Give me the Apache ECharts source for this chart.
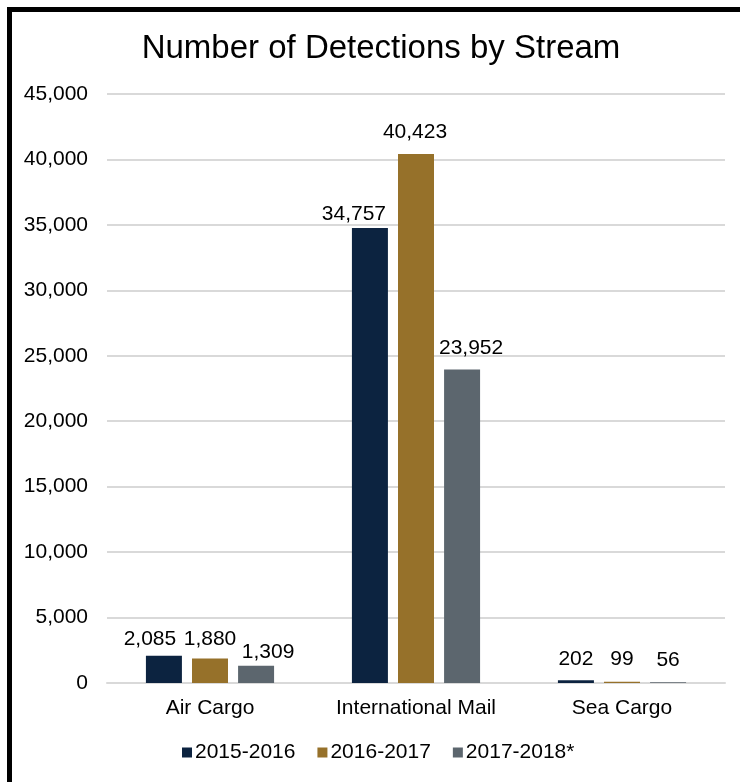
<!DOCTYPE html>
<html>
<head>
<meta charset="utf-8">
<script src="https://cdn.jsdelivr.net/npm/echarts@6/dist/echarts.min.js"></script>
<style>
html,body{margin:0;padding:0;background:#fff;}
#chart{width:740px;height:782px;}
</style>
</head>
<body>
<div id="chart"></div>
<script>
const categories = ['Air Cargo', 'International Mail', 'Sea Cargo'];
const seriesNames = ['2015-2016', '2016-2017', '2017-2018*'];
const values2015 = [2085, 34757, 202];
const values2016 = [1880, 40423, 99];
const values2017 = [1309, 23952, 56];
const yTicks = { min: 0, max: 45000, interval: 5000 };

const colors = ['#0C2340', '#96712A', '#5C666E'];
// Excel-style label nudges (style only): [series][category] -> [dx, dy]
const labelOffsets = [
  [[-14, -3], [-16, 0], [0, -8]],
  [[0, -6], [-1, -8], [0, -9]],
  [[12, 0], [9, -8], [0, -9]]
];
const FONT = 'Arial, "Liberation Sans", sans-serif';
const allValues = [values2015, values2016, values2017];

const chart = echarts.init(document.getElementById('chart'), null, {renderer: 'canvas'});
chart.setOption({
  backgroundColor: '#fff',
  animation: false,
  title: {
    text: 'Number of Detections by Stream',
    left: 376, textAlign: 'center', top: 27,
    textStyle: {fontFamily: FONT, fontSize: 33, fontWeight: 'normal', color: '#000'}
  },
  legend: {
    data: seriesNames,
    bottom: 14, left: 177,
    itemWidth: 10, itemHeight: 10, itemGap: 22,
    icon: 'rect',
    textStyle: {fontFamily: FONT, fontSize: 21, color: '#000', padding: [0, 0, 0, -2]}
  },
  grid: {left: 107, right: 15, top: 94, bottom: 99, containLabel: false},
  xAxis: {
    type: 'category', data: categories,
    axisTick: {show: false},
    axisLine: {lineStyle: {color: '#d9d9d9', width: 2}},
    axisLabel: {fontFamily: FONT, fontSize: 21, color: '#000', margin: 15, interval: 0}
  },
  yAxis: {
    type: 'value', min: yTicks.min, max: yTicks.max, interval: yTicks.interval,
    axisLine: {show: false}, axisTick: {show: false},
    splitLine: {lineStyle: {color: '#d9d9d9', width: 2}},
    axisLabel: {fontFamily: FONT, fontSize: 21, color: '#000', margin: 19,
      formatter: v => v.toLocaleString('en-US')}
  },
  graphic: [
    {type: 'polyline', shape: {points: [[9.5, 782], [9.5, 9.5], [740, 9.5]]},
     style: {stroke: '#000', lineWidth: 5, fill: null}, z: 100}
  ],
  series: seriesNames.map((name, si) => ({
    name, type: 'bar',
    data: allValues[si].map((v, ci) => ({
      value: v,
      label: {offset: labelOffsets[si][ci]}
    })),
    barWidth: 36, barGap: '28%',
    itemStyle: {color: colors[si]},
    label: {
      show: true, position: 'top', distance: 3,
      fontFamily: FONT, fontSize: 21, color: '#000',
      formatter: p => p.value.toLocaleString('en-US')
    }
  }))
});
</script>
</body>
</html>
